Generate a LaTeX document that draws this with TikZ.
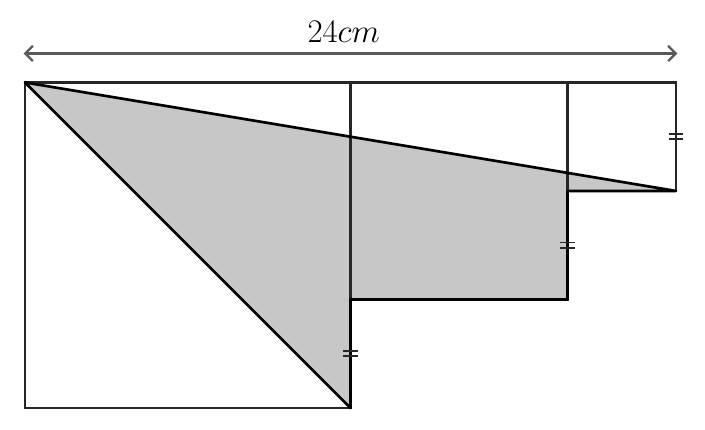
\documentclass[tikz,border=0pt]{standalone}
\usetikzlibrary{arrows.meta}
\begin{document}
\begin{tikzpicture}[x=0.5cm,y=0.5cm,
  sq/.style={draw=black!85,line width=1.1pt},
  edgeline/.style={draw=black,line width=1.4pt,line join=round},
  shade/.style={fill=black!22},
  tickmark/.style={draw=black!85,line width=1pt},
  dimline/.style={draw=black!65,line width=1.2pt,{Straight Barb[length=4pt,width=8pt]}-{Straight Barb[length=4pt,width=8pt]}}]
\useasboundingbox (-0.92,-0.81) rectangle (25.07,15.04);
\coordinate (A) at (0,12);
\coordinate (B) at (12,0);
\coordinate (C) at (12,4);
\coordinate (D) at (20,4);
\coordinate (E) at (20,8);
\coordinate (F) at (24,8);
\fill[shade] (A) -- (B) -- (C) -- (D) -- (E) -- (F) -- cycle;
\draw[sq] (0,0) rectangle (12,12);
\draw[sq] (12,4) rectangle (20,12);
\draw[sq] (20,8) rectangle (24,12);
\draw[edgeline] (A) -- (B) -- (C) -- (D) -- (E) -- (F) -- cycle;
\coordinate (T1) at (12,2);
\coordinate (T2) at (20,6);
\coordinate (T3) at (24,10);
\foreach \t in {T1,T2,T3}
  \draw[tickmark] ([shift={(-0.26,0.1)}]\t) -- ++(0.52,0)
                  ([shift={(-0.26,-0.1)}]\t) -- ++(0.52,0);
\coordinate (L) at (-0.05,13.07);
\coordinate (R) at (24.05,13.07);
\draw[dimline] (L) -- (R);
\node[font=\LARGE,anchor=base,inner sep=0pt] (lab) at (11.75,13.47) {$24cm$};
\end{tikzpicture}
\end{document}
